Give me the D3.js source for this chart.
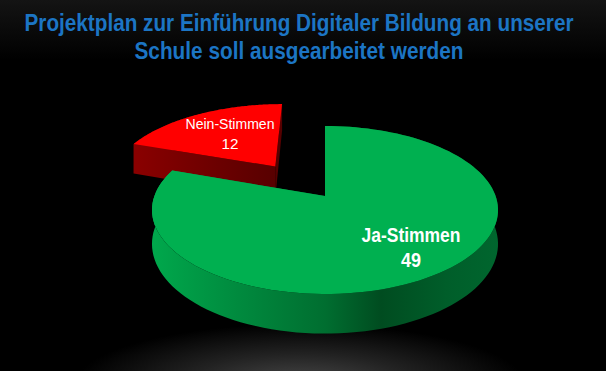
<!DOCTYPE html>
<html><head><meta charset="utf-8">
<script src="https://cdnjs.cloudflare.com/ajax/libs/d3/7.8.5/d3.min.js"></script>
<style>html,body{margin:0;padding:0;background:#000}svg{display:block}</style></head>
<body><svg id="c" width="606" height="371"></svg>
<script>
const titleLines = ["Projektplan zur Einführung Digitaler Bildung an unserer", "Schule soll ausgearbeitet werden"];
const categories = ["Ja-Stimmen", "Nein-Stimmen"];
const values = [49, 12];
const topColors = ["#00b050", "#ff0000"];
const explodeU = [0, -0.31];
const explodeV = [0, -0.385];

const W = 606, H = 371;
const svg = d3.select("#c");
const defs = svg.append("defs");

// backdrop
const bgTop = defs.append("linearGradient").attr("id","bgTop").attr("x1",0).attr("x2",0).attr("y1",0).attr("y2",1);
bgTop.append("stop").attr("offset",0).attr("stop-color","#141414");
bgTop.append("stop").attr("offset",1).attr("stop-color","#000");
const glow = defs.append("radialGradient").attr("id","glow").attr("gradientUnits","userSpaceOnUse")
  .attr("cx",0).attr("cy",0).attr("r",1)
  .attr("gradientTransform","translate(300,384) scale(225,60)");
glow.append("stop").attr("offset",0).attr("stop-color","#484848");
glow.append("stop").attr("offset",.5).attr("stop-color","#222");
glow.append("stop").attr("offset",1).attr("stop-color","#000");
svg.append("rect").attr("width",W).attr("height",H).attr("fill","#000");
svg.append("rect").attr("width",W).attr("height",60).attr("fill","url(#bgTop)");
svg.append("rect").attr("y",320).attr("width",W).attr("height",51).attr("fill","url(#glow)");

// title: a smaller font stretched vertically keeps the natural width inside the page
svg.selectAll("text.t").data(titleLines).join("text").attr("class","t")
  .attr("transform",(d,i)=>`translate(299,${31+i*28}) scale(1,1.2)`)
  .attr("text-anchor","middle")
  .attr("textLength",(d,i)=>[549,329][i]).attr("lengthAdjust","spacingAndGlyphs")
  .attr("font-family","'Liberation Sans'").attr("font-weight","bold").attr("font-size",20)
  .attr("fill","#1c75c4").text(d=>d);

// perspective disc: (u,v) on the unit disc -> screen
const cx = 325, cy = 196, a = 170.6, b = 81.67, e = 1/6, d0 = 33;
const proj = (u,v,drop) => {
  const w = 1 - e*v;
  return [cx + a*u/w, cy + (b*v + (drop?d0:0))/w];
};
const pie = d3.pie().sort(null).value(d=>d);
const arcs = pie(values);
const gradGreen = defs.append("linearGradient").attr("id","side0").attr("gradientUnits","userSpaceOnUse")
  .attr("x1",152).attr("x2",499).attr("y1",0).attr("y2",0);
[[0,"#00a84c"],[.25,"#008a3e"],[.5,"#006e30"],[.66,"#004c20"],[.85,"#005e2a"],[1,"#00662e"]]
  .forEach(s=>gradGreen.append("stop").attr("offset",s[0]).attr("stop-color",s[1]));
const gradRed = defs.append("linearGradient").attr("id","side1").attr("gradientUnits","userSpaceOnUse")
  .attr("x1",134).attr("x2",280).attr("y1",0).attr("y2",0);
[[0,"#8a0000"],[.6,"#6a0000"],[1,"#560000"]]
  .forEach(s=>gradRed.append("stop").attr("offset",s[0]).attr("stop-color",s[1]));

const line = d3.line();
const shapes = arcs.map((arc,i) => {
  const ox = explodeU[i], oy = explodeV[i];
  const n = 120;
  const disc = [[ox,oy]];
  for (let k=0;k<=n;k++){
    const t = arc.startAngle+(arc.endAngle-arc.startAngle)*k/n;
    disc.push([ox+Math.sin(t), oy-Math.cos(t)]);
  }
  return {i, top: disc.map(p=>proj(p[0],p[1],false)), low: disc.map(p=>proj(p[0],p[1],true))};
});

// red is behind green
[1,0].forEach(i=>{
  const s = shapes[i], g = svg.append("g"), last = s.top.length-1;
  const band = (from,to) => {
    const t = s.top.slice(from,to), l = s.low.slice(from,to).reverse();
    g.append("path").attr("d",line(t.concat(l))+"Z").attr("fill",`url(#side${i})`);
  };
  band(1,last+1);                                   // outer rim
  band(0,2);                                        // first cut edge
  g.append("path").attr("d",line([s.top[last],s.top[0],s.low[0],s.low[last]])+"Z").attr("fill",`url(#side${i})`); // second cut edge
  g.append("path").attr("d",line(s.top)+"Z").attr("fill",topColors[i]);
});

// labels
const labelPos = [[411,242,267,21,"bold",99,20],[230,129,149,15,"normal",89,17]];
categories.forEach((c,i)=>{
  const [x,y1,y2,fs,fw,tl,tv] = labelPos[i];
  const fam = "'Liberation Sans'";
  svg.append("text").attr("x",x).attr("y",y1).attr("text-anchor","middle")
    .attr("textLength",tl).attr("lengthAdjust","spacingAndGlyphs")
    .attr("font-family",fam).attr("font-size",fs).attr("font-weight",fw).attr("fill","#fff").text(c);
  svg.append("text").attr("x",x).attr("y",y2).attr("text-anchor","middle")
    .attr("textLength",tv).attr("lengthAdjust","spacingAndGlyphs")
    .attr("font-family",fam).attr("font-size",fs).attr("font-weight",fw).attr("fill","#fff").text(values[i]);
});
</script></body></html>
